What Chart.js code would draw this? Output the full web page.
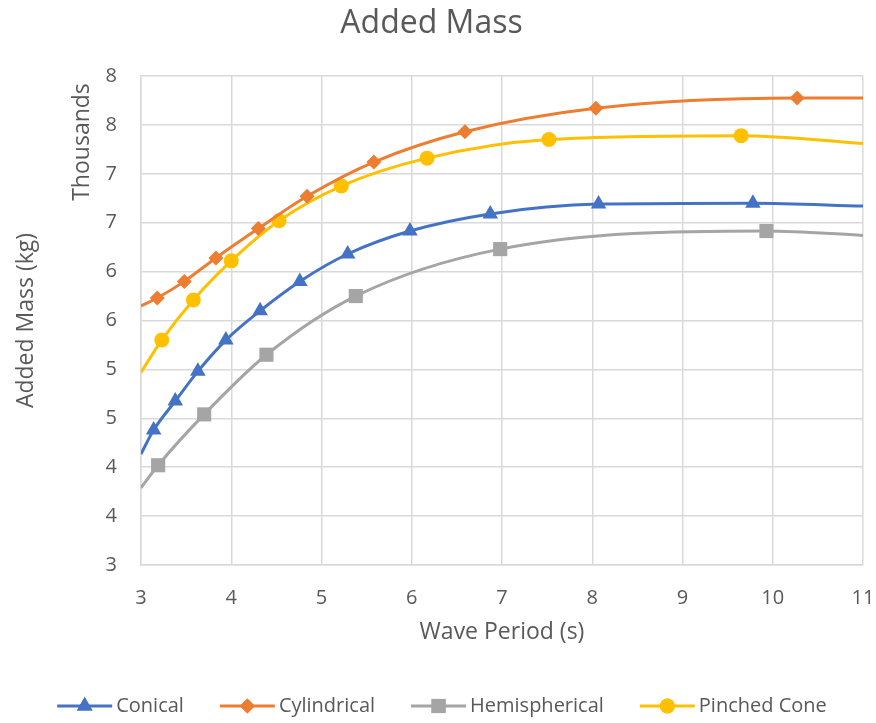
<!DOCTYPE html>
<html>
<head>
<meta charset="utf-8">
<script src="https://cdn.jsdelivr.net/npm/chart.js@4.4.1/dist/chart.umd.min.js"></script>
<style>
  html, body { margin: 0; padding: 0; background: #ffffff; }
  #wrap { width: 876px; height: 723px; }
</style>
</head>
<body>
<div id="wrap"><canvas id="c" width="876" height="723"></canvas></div>
<script>
// ---- Data (added mass in kg, wave period in s) ----
const seriesNames = ['Conical', 'Cylindrical', 'Hemispherical', 'Pinched Cone'];

const conicalX = [3.00, 3.14, 3.38, 3.63, 3.94, 4.32, 4.76, 5.29, 5.98, 6.87, 8.07, 9.78, 11.00];
const conicalY = [4135, 4380, 4677, 4980, 5300, 5600, 5900, 6180, 6415, 6590, 6690, 6700, 6670];

const cylindricalX = [3.00, 3.18, 3.48, 3.83, 4.30, 4.84, 5.58, 6.59, 8.04, 10.27, 11.00];
const cylindricalY = [5650, 5730, 5900, 6140, 6440, 6770, 7120, 7430, 7670, 7775, 7775];

const hemisphericalX = [3.00, 3.19, 3.70, 4.39, 5.38, 6.98, 9.93, 11.00];
const hemisphericalY = [3790, 4020, 4540, 5150, 5750, 6230, 6415, 6370];

const pinchedX = [3.00, 3.23, 3.58, 4.00, 4.53, 5.22, 6.17, 7.52, 9.65, 11.00];
const pinchedY = [4970, 5300, 5710, 6110, 6520, 6875, 7160, 7350, 7390, 7310];

const xTicks = [3, 4, 5, 6, 7, 8, 9, 10, 11];
const yMin = 3000, yMax = 8000, yStep = 500;

const colors = ['#4472C4', '#ED7D31', '#A5A5A5', '#FFC000'];
const pointStyles = ['triangle', 'rectRot', 'rect', 'circle'];
const pointRadii = [9, 7.5, 10, 7.5];

const FONT = "'Open Sans', 'DejaVu Sans', sans-serif";
const TEXT = '#595959';
const GRID = '#d9d9d9';

function toPoints(xs, ys) { return xs.map((x, i) => ({ x: x, y: ys[i] })); }
// the first and last entries are where the curve meets the plot edges (no marker drawn there)
function radii(n, r) { return Array.from({ length: n }, (_, i) => (i === 0 || i === n - 1) ? 0 : r); }

const rawSeries = [
  [conicalX, conicalY],
  [cylindricalX, cylindricalY],
  [hemisphericalX, hemisphericalY],
  [pinchedX, pinchedY]
];

const datasets = rawSeries.map((s, k) => ({
  label: seriesNames[k],
  data: toPoints(s[0], s[1]),
  showLine: true,
  borderColor: colors[k],
  backgroundColor: colors[k],
  borderWidth: 3,
  cubicInterpolationMode: 'monotone',
  pointStyle: pointStyles[k],
  pointRadius: radii(s[0].length, pointRadii[k]),
  pointBorderWidth: 0,
  pointBackgroundColor: colors[k],
  pointBorderColor: colors[k]
}));

const extraText = {
  id: 'extraText',
  afterDraw(chart) {
    const ctx = chart.ctx;
    ctx.save();
    // display units label
    ctx.fillStyle = TEXT;
    ctx.font = '23px ' + FONT;
    ctx.translate(89, 142);
    ctx.rotate(-Math.PI / 2);
    ctx.textAlign = 'center';
    ctx.textBaseline = 'alphabetic';
    ctx.fillText('Thousands', 0, 0);
    ctx.restore();

    // legend: line + marker + label
    ctx.save();
    ctx.font = '20px ' + FONT;
    const lineLen = 55, gapText = 4, gapItem = 36;
    const widths = seriesNames.map(n => ctx.measureText(n).width);
    let total = 0;
    widths.forEach((w, i) => { total += lineLen + gapText + w + (i < widths.length - 1 ? gapItem : 0); });
    let x = 442 - total / 2;
    const y = 706;
    seriesNames.forEach((name, i) => {
      ctx.strokeStyle = colors[i];
      ctx.lineWidth = 3;
      ctx.beginPath();
      ctx.moveTo(x, y);
      ctx.lineTo(x + lineLen, y);
      ctx.stroke();
      ctx.fillStyle = colors[i];
      ctx.strokeStyle = colors[i];
      Chart.helpers.drawPoint(ctx, { pointStyle: pointStyles[i], radius: pointRadii[i], borderWidth: 0, rotation: 0 }, x + lineLen / 2, y);
      ctx.fill();
      ctx.fillStyle = TEXT;
      ctx.textAlign = 'left';
      ctx.textBaseline = 'middle';
      ctx.fillText(name, x + lineLen + gapText, y);
      x += lineLen + gapText + widths[i] + gapItem;
    });
    ctx.restore();
  }
};

new Chart(document.getElementById('c'), {
  type: 'scatter',
  data: { datasets: datasets },
  plugins: [extraText],
  options: {
    responsive: false,
    animation: false,
    events: [],
    layout: { padding: { left: 0, right: 13, top: 0, bottom: 76 } },
    plugins: {
      legend: { display: false },
      tooltip: { enabled: false },
      title: {
        display: true,
        text: 'Added Mass',
        color: TEXT,
        font: { family: FONT, size: 32, weight: 'normal' },
        padding: { top: 5, bottom: 32.6 }
      }
    },
    scales: {
      x: {
        type: 'linear',
        min: 3, max: 11,
        afterBuildTicks(scale) { scale.ticks = xTicks.map(v => ({ value: v })); },
        afterFit(scale) { scale.height = 82; scale.paddingRight = 0; scale.paddingLeft = 0; },
        ticks: { color: TEXT, font: { family: FONT, size: 20 }, padding: 21, maxRotation: 0 },
        grid: { color: GRID, lineWidth: 1.5, drawTicks: false },
        border: { color: GRID, width: 1.5 },
        title: {
          display: true, text: 'Wave Period (s)', color: TEXT,
          font: { family: FONT, size: 23 }, padding: { top: 0, bottom: 1 }
        }
      },
      y: {
        type: 'linear',
        min: yMin, max: yMax,
        ticks: {
          stepSize: yStep,
          color: TEXT, font: { family: FONT, size: 20 }, padding: 24,
          callback: v => String(Math.round(v / 1000))
        },
        afterFit(scale) { scale.width = 141; },
        grid: { color: GRID, lineWidth: 1.5, drawTicks: false },
        border: { color: GRID, width: 1.5 },
        title: {
          display: true, text: 'Added Mass (kg)', color: TEXT,
          font: { family: FONT, size: 23 }, padding: { top: 13, bottom: 0 }
        }
      }
    }
  }
});
</script>
</body>
</html>
